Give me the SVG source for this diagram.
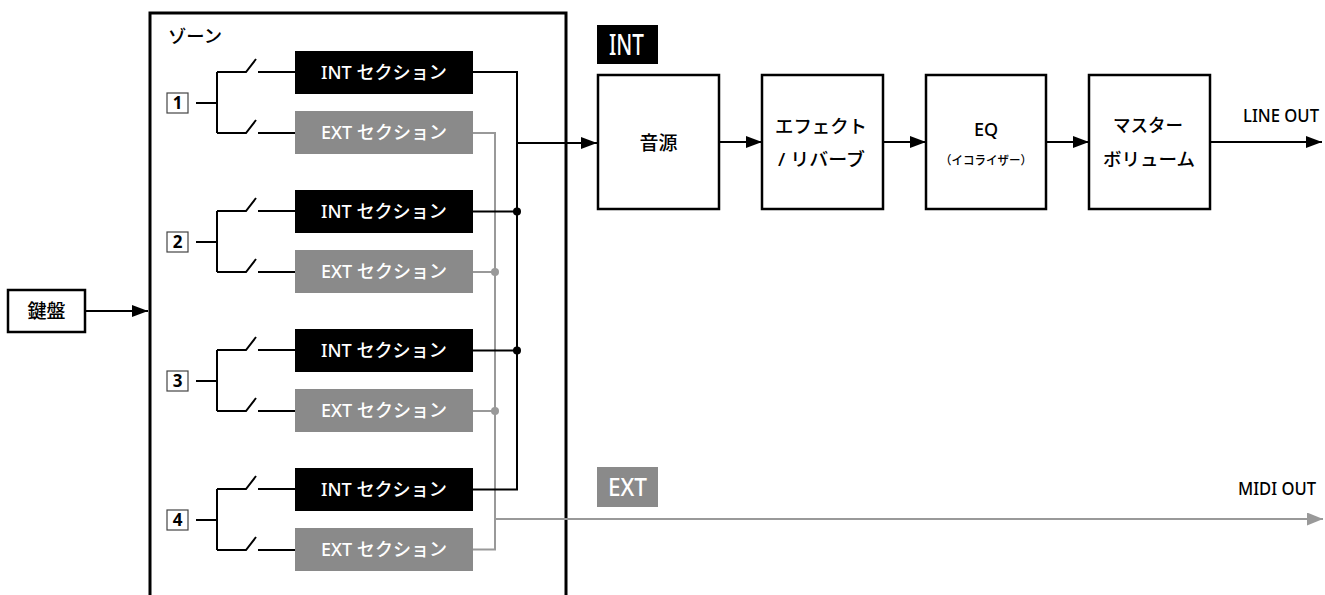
<svg xmlns="http://www.w3.org/2000/svg" width="1325" height="595" viewBox="0 0 1325 595">
<style>
text{font-family:"Noto Sans","Noto Sans CJK JP",sans-serif;font-weight:500}
.t{font-size:18px;fill:#000}
.w{font-size:18px;fill:#fff;text-anchor:middle}
.c{text-anchor:middle}
.int{fill:#000}
.ext{fill:#8a8a8a}
.blk{fill:#fff;stroke:#000;stroke-width:2.5}
.ln{fill:none;stroke:#000;stroke-width:2}
.gl{fill:none;stroke:#999;stroke-width:2}
.num{fill:#fff;stroke:#444;stroke-width:1.2}
.nt{font-size:17px;font-weight:700;text-anchor:middle}
</style>
<defs>
<marker id="ab" markerUnits="userSpaceOnUse" markerWidth="16" markerHeight="12" refX="16" refY="6" orient="auto"><path d="M0,0L16,6L0,12z" fill="#000"/></marker>
<marker id="ag" markerUnits="userSpaceOnUse" markerWidth="16" markerHeight="13" refX="16" refY="6.5" orient="auto"><path d="M0,0L16,6.5L0,13z" fill="#999"/></marker>
<g id="sw">
<path class="ln" d="M196,0H217M217,-31V30M217,-31H246L256,-44M258,-31H295M217,30H246L256,17M258,30H295"/>
</g>
</defs>

<g id="keyboard">
<rect x="8" y="290" width="77" height="42" class="blk" stroke-width="2"/>
<text x="46.5" y="318" class="c" font-size="19">鍵盤</text>
</g>

<g id="zone">
<rect x="150" y="13" width="416" height="600" fill="none" stroke="#000" stroke-width="3"/>
<text x="168" y="43" class="t" textLength="54" lengthAdjust="spacingAndGlyphs">ゾーン</text>
</g>

<g id="zone1">
<rect x="167" y="93" width="21" height="20" class="num"/><text x="177.5" y="109" class="nt">1</text>
<use href="#sw" y="103"/>
<rect x="295" y="51" width="178" height="43" class="int"/><text x="384" y="79" class="w" textLength="126" lengthAdjust="spacingAndGlyphs">INT セクション</text>
<rect x="295" y="111" width="178" height="43" class="ext"/><text x="384" y="139" class="w" textLength="126" lengthAdjust="spacingAndGlyphs">EXT セクション</text>
</g>
<g id="zone2">
<rect x="167" y="232" width="21" height="20" class="num"/><text x="177.5" y="248" class="nt">2</text>
<use href="#sw" y="242"/>
<rect x="295" y="190" width="178" height="43" class="int"/><text x="384" y="218" class="w" textLength="126" lengthAdjust="spacingAndGlyphs">INT セクション</text>
<rect x="295" y="250" width="178" height="43" class="ext"/><text x="384" y="278" class="w" textLength="126" lengthAdjust="spacingAndGlyphs">EXT セクション</text>
</g>
<g id="zone3">
<rect x="167" y="371" width="21" height="20" class="num"/><text x="177.5" y="387" class="nt">3</text>
<use href="#sw" y="381"/>
<rect x="295" y="329" width="178" height="43" class="int"/><text x="384" y="357" class="w" textLength="126" lengthAdjust="spacingAndGlyphs">INT セクション</text>
<rect x="295" y="389" width="178" height="43" class="ext"/><text x="384" y="417" class="w" textLength="126" lengthAdjust="spacingAndGlyphs">EXT セクション</text>
</g>
<g id="zone4">
<rect x="167" y="510" width="21" height="20" class="num"/><text x="177.5" y="526" class="nt">4</text>
<use href="#sw" y="520"/>
<rect x="295" y="468" width="178" height="43" class="int"/><text x="384" y="496" class="w" textLength="126" lengthAdjust="spacingAndGlyphs">INT セクション</text>
<rect x="295" y="528" width="178" height="43" class="ext"/><text x="384" y="556" class="w" textLength="126" lengthAdjust="spacingAndGlyphs">EXT セクション</text>
</g>

<g id="int-label">
<rect x="597" y="25" width="61" height="39" fill="#000"/>
<text x="609" y="55" font-size="28" fill="#fff" textLength="35" lengthAdjust="spacingAndGlyphs">INT</text>
</g>
<g id="ext-label">
<rect x="597" y="467" width="61" height="40" fill="#8a8a8a"/>
<text x="608" y="495.5" font-size="26" fill="#fff" textLength="39" lengthAdjust="spacingAndGlyphs">EXT</text>
</g>

<g id="source">
<rect x="598" y="75" width="121" height="134" class="blk"/>
<text x="658.5" y="150" class="c" font-size="19">音源</text>
</g>
<g id="effect">
<rect x="762" y="75" width="121" height="134" class="blk"/>
<text x="821" y="133" class="c" font-size="18" textLength="92" lengthAdjust="spacingAndGlyphs">エフェクト</text>
<text x="821.5" y="165.5" class="c" font-size="18" textLength="87" lengthAdjust="spacingAndGlyphs">/ リバーブ</text>
</g>
<g id="eq">
<rect x="926" y="75" width="120" height="134" class="blk"/>
<text x="986" y="136" class="c" font-size="18">EQ</text>
<text x="986" y="165" class="c" font-size="12" textLength="92" lengthAdjust="spacingAndGlyphs">（イコライザー）</text>
</g>
<g id="master">
<rect x="1089" y="75" width="121" height="134" class="blk"/>
<text x="1148" y="132" class="c" font-size="18" textLength="70" lengthAdjust="spacingAndGlyphs">マスター</text>
<text x="1149" y="166" class="c" font-size="18" textLength="92" lengthAdjust="spacingAndGlyphs">ボリューム</text>
</g>
<g id="outputs">
<text x="1243" y="122" font-size="18.5" textLength="76" lengthAdjust="spacingAndGlyphs">LINE OUT</text>
<text x="1238" y="495" font-size="18.5" textLength="78" lengthAdjust="spacingAndGlyphs">MIDI OUT</text>
</g>

<g id="connectors">
<path class="ln" d="M85,311H148" marker-end="url(#ab)"/>
<path class="gl" d="M473,133H495V549.5H473M473,272H495M473,411H495"/>
<path class="gl" d="M495,519H1323" marker-end="url(#ag)"/>
<circle cx="495" cy="272" r="4" fill="#999"/>
<circle cx="495" cy="411" r="4" fill="#999"/>
<path class="ln" d="M473,72H517V489.5H473M473,211.5H517M473,350.5H517"/>
<circle cx="517" cy="211.5" r="4" fill="#000"/>
<circle cx="517" cy="350.5" r="4" fill="#000"/>
<path class="ln" d="M517,143H597" marker-end="url(#ab)"/>
<path class="ln" d="M719,142H762" marker-end="url(#ab)"/>
<path class="ln" d="M883,142H926" marker-end="url(#ab)"/>
<path class="ln" d="M1046,142H1089" marker-end="url(#ab)"/>
<path class="ln" d="M1210,142H1322" marker-end="url(#ab)"/>
</g>
</svg>
